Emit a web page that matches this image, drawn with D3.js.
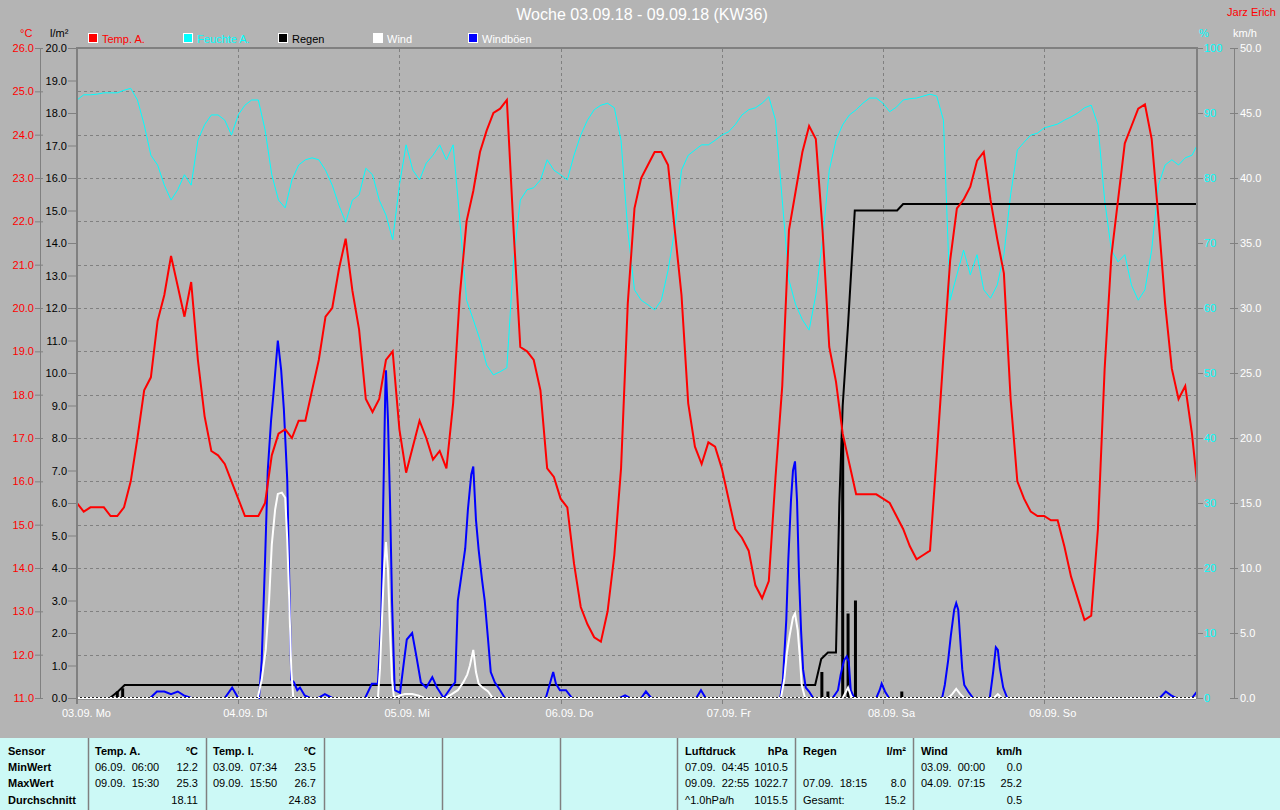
<!DOCTYPE html>
<html><head><meta charset="utf-8">
<script src="https://cdn.jsdelivr.net/npm/d3@7"></script>
<style>
html,body{margin:0;padding:0;background:#b4b4b4;overflow:hidden;}
svg{display:block;font-family:"Liberation Sans",Arial,sans-serif;}
</style></head><body>
<svg id="c" width="1280" height="810"></svg>
<script>
// ---------- DATA ----------
const title = "Woche 03.09.18 - 09.09.18 (KW36)";
const author = "Jarz Erich";
const dayLabels = ["03.09. Mo","04.09. Di","05.09. Mi","06.09. Do","07.09. Fr","08.09. Sa","09.09. So"];
const tempTicks = [11,12,13,14,15,16,17,18,19,20,21,22,23,24,25,26];
const rainTicks = [0,1,2,3,4,5,6,7,8,9,10,11,12,13,14,15,16,17,18,19,20];
const humTicks = [0,10,20,30,40,50,60,70,80,90,100];
const windTicks = [0,5,10,15,20,25,30,35,40,45,50];
const legendLabels = ["Temp. A.","Feuchte A.","Regen","Wind","Windböen"];
const legendColors = ["#ff0000","#00ffff","#000000","#ffffff","#0000ff"];
const legendTextColors = ["#ff0000","#00ffff","#000000","#ffffff","#ffffff"];

// hourly values from 03.09. 00:00
const tempA = [
15.5,15.3,15.4,15.4,15.4,15.2,15.2,15.4,16.0,17.0,
18.1,18.4,19.7,20.3,21.2,20.5,19.8,20.6,18.8,17.5,
16.7,16.6,16.4,16.0,15.6,15.2,15.2,15.2,15.5,16.6,
17.1,17.2,17.0,17.4,17.4,18.1,18.8,19.8,20.0,20.9,
21.6,20.4,19.5,17.9,17.6,17.9,18.8,19.0,17.2,16.2,
16.8,17.4,17.0,16.5,16.7,16.3,17.8,20.3,22.0,22.7,
23.6,24.1,24.5,24.6,24.8,21.8,19.1,19.0,18.8,18.1,
16.3,16.1,15.6,15.4,14.1,13.1,12.7,12.4,12.3,13.0,
14.3,16.3,20.1,22.3,23.0,23.3,23.6,23.6,23.3,21.8,
20.3,17.8,16.8,16.4,16.9,16.8,16.3,15.6,14.9,14.7,
14.4,13.6,13.3,13.7,16.1,18.2,21.8,22.7,23.6,24.2,
23.9,21.8,19.1,18.3,17.1,16.4,15.7,15.7,15.7,15.7,
15.6,15.5,15.2,14.9,14.5,14.2,14.3,14.4,16.6,18.9,
21.1,22.3,22.5,22.8,23.4,23.6,22.5,21.6,20.8,17.9,
16.0,15.6,15.3,15.2,15.2,15.1,15.1,14.5,13.8,13.3,
12.8,12.9,14.9,18.6,21.2,22.5,23.8,24.2,24.6,24.7,
23.9,22.1,20.1,18.6,17.9,18.2,17.1,15.6];

const humidity = [
92.0,92.8,92.8,92.9,93.1,93.1,93.1,93.5,93.8,92.0,
88.2,83.5,82.0,78.9,76.6,78.2,80.5,78.9,85.8,88.2,
89.7,89.7,88.9,86.6,89.7,91.2,92.0,92.0,87.4,80.5,
76.6,75.4,79.7,82.0,82.8,83.1,82.8,81.2,78.9,75.8,
73.2,76.6,77.4,81.5,80.5,76.6,74.3,70.5,78.9,85.1,
81.2,79.7,82.3,83.5,85.1,82.8,85.1,73.5,61.2,58.2,
55.1,51.2,49.7,50.2,50.8,67.4,76.6,78.2,78.5,79.7,
82.8,81.2,80.5,79.7,83.5,86.6,88.9,90.5,91.2,91.5,
90.8,85.8,72.0,62.8,61.2,60.5,59.7,61.2,65.8,72.0,
81.2,83.5,84.3,85.1,85.1,85.8,86.6,87.1,88.2,89.7,
90.5,90.8,91.5,92.5,88.9,76.6,64.3,60.5,58.2,56.6,
62.0,70.5,81.2,85.8,88.2,89.7,90.5,91.5,92.3,92.3,
91.5,90.2,90.9,92.0,92.2,92.3,92.6,92.9,92.6,88.9,
61.2,65.1,68.9,65.1,68.2,62.8,61.5,63.5,68.2,77.4,
84.3,85.5,86.6,86.9,87.7,88.0,88.3,88.9,89.4,90.0,
90.8,91.2,88.2,76.6,68.9,67.1,68.2,63.5,61.2,62.8,
68.9,78.9,82.0,82.8,82.0,83.1,83.5,85.5];

const rainTotalHours = [0,4.9,6.1,7.1,109.9,110.8,111.8,113.0,113.5,114.0,114.8,115.8,122.1,123.0,166.75];
const rainTotal      = [0,0,0.2,0.4,0.4,1.2,1.4,1.4,6.0,9.0,11.5,15.0,15.0,15.2,15.2];

const rainBarHours = [6.0,6.8,110.9,111.8,114.0,114.8,115.9,122.8];
const rainBar      = [0.2,0.3,0.8,0.2,8.0,2.6,3.0,0.2];

const gustHours = [0,10.9,11.9,13.0,14.0,15.0,15.9,17.0,22.0,23.1,24.0,27.1,27.5,28.0,28.4,28.9,29.3,29.9,30.4,30.8,31.3,31.6,31.9,32.3,32.8,33.2,33.9,34.7,35.9,36.9,38.0,
42.9,43.9,44.8,45.3,45.6,45.9,46.0,46.3,46.6,46.9,47.3,48.1,48.7,49.1,49.9,50.5,51.2,52.0,52.9,53.6,54.6,55.4,55.8,56.3,56.7,57.2,57.8,58.2,58.7,59.0,59.4,59.8,60.3,60.7,61.2,61.6,62.2,63.0,63.7,
69.8,70.4,70.9,71.3,71.9,72.8,73.7,80.8,81.6,82.3,84.0,84.7,85.5,92.2,92.9,93.6,
104.7,105.1,105.6,105.9,106.3,106.6,106.9,107.2,107.5,107.8,108.1,108.5,109.0,109.6,
112.5,113.3,113.7,114.2,114.6,114.9,115.2,115.7,119.0,119.5,119.8,120.3,120.9,
128.8,129.2,129.7,130.1,130.6,130.9,131.2,131.5,131.8,132.1,132.7,133.4,
135.9,136.4,136.8,137.1,137.4,137.9,138.5,161.2,162.1,162.9,163.6,166.0,166.75];
const gust = [0,0,0.5,0.5,0.3,0.5,0.2,0,0,0.8,0,0,2.9,10.6,17.5,21.4,23.7,27.5,25.2,22.2,16.8,9.1,1.4,1.2,0.6,0.8,0.2,0,0,0.3,0,
0,1.1,1.1,6.0,15.2,23.7,25.2,21.4,15.2,7.5,0.6,0.4,2.9,4.5,5.0,3.3,1.2,0.8,1.6,0.8,0,0.6,0.9,1.2,7.5,9.3,11.5,14.5,17.2,17.8,13.7,11.4,9.1,7.5,4.5,2.0,1.2,0.6,0,
0,1.1,2.0,1.1,0.6,0.6,0,0,0.2,0,0,0.5,0,0,0.6,0,
0,1.4,6.0,10.6,15.2,17.5,18.2,15.2,9.3,5.2,2.2,0.8,0.5,0,
0,0.6,1.8,2.9,3.2,2.8,0.6,0,0,0.6,1.1,0.5,0,
0,1.0,2.9,4.8,6.8,7.3,6.8,4.5,2.2,1.0,0.5,0,
0,2.0,3.9,3.7,2.3,0.8,0,0,0.5,0.2,0,0,0.5];

const windHours = [0,26.9,27.5,28.1,28.6,29.0,29.5,29.9,30.5,31.0,31.3,31.6,31.9,32.2,
44.8,45.1,45.4,45.7,46.0,46.3,46.6,46.9,47.2,48.1,48.8,49.9,50.8,51.7,
54.8,55.8,56.7,57.5,58.1,58.5,59.0,59.4,59.8,60.4,61.2,61.9,
104.8,105.3,105.7,106.1,106.6,106.9,107.3,107.6,107.9,108.4,
114.0,114.5,114.8,115.2,115.5,129.7,130.3,130.9,131.5,132.1,136.5,137.1,137.7,166.75];
const wind = [0,0,1.4,3.7,7.5,11.8,14.5,15.7,15.8,15.4,12.2,7.5,2.2,0,
0,2.2,6.0,9.8,12.0,9.8,5.2,1.4,0,0.2,0.3,0.3,0.2,0,
0,0.3,0.6,1.2,1.8,2.5,3.7,2.0,1.1,0.8,0.5,0,
0,1.4,3.5,4.8,6.2,6.5,5.2,3.3,1.0,0,
0,0.5,0.8,0.2,0,0,0.3,0.7,0.3,0,0,0.3,0,0];

// statistics table
const sensorLabels = ["Sensor","MinWert","MaxWert","Durchschnitt"];
const tempAHead = ["Temp. A.","°C"];
const tempARows = [["06.09.  06:00","12.2"],["09.09.  15:30","25.3"],["","18.11"]];
const tempIHead = ["Temp. I.","°C"];
const tempIRows = [["03.09.  07:34","23.5"],["09.09.  15:50","26.7"],["","24.83"]];
const pressHead = ["Luftdruck","hPa"];
const pressRows = [["07.09.  04:45","1010.5"],["09.09.  22:55","1022.7"],["^1.0hPa/h","1015.5"]];
const rainHead = ["Regen","l/m²"];
const rainRows = [["",""],["07.09.  18:15","8.0"],["Gesamt:","15.2"]];
const windHead = ["Wind","km/h"];
const windRows = [["03.09.  00:00","0.0"],["04.09.  07:15","25.2"],["","0.5"]];

// ---------- DRAW ----------
const svg = d3.select('#c');
const FONT = '"Liberation Sans",Arial,sans-serif';
const GRAY = '#808080';
svg.append('rect').attr('width',1280).attr('height',810).attr('fill','#b4b4b4');

const x  = d3.scaleLinear().domain([0,166.75]).range([77,1197]);
const yT = d3.scaleLinear().domain([11,26]).range([698,48]);
const yR = d3.scaleLinear().domain([0,20]).range([698,48]);
const yH = d3.scaleLinear().domain([0,100]).range([698,48]);
const yW = d3.scaleLinear().domain([0,50]).range([698,48]);

// title
svg.append('text').attr('x',642).attr('y',20).attr('text-anchor','middle')
  .attr('fill','#ffffff').attr('font-size',16).attr('font-family',FONT).text(title);
svg.append('text').attr('x',1276).attr('y',16).attr('text-anchor','end')
  .attr('fill','#ff0000').attr('font-size',11).attr('font-family',FONT).text(author);

// legend
const lg = svg.append('g');
legendLabels.forEach((l,i)=>{
  const lx = 88 + i*95;
  lg.append('rect').attr('x',lx+0.5).attr('y',33.5).attr('width',9).attr('height',9)
    .attr('fill',legendColors[i]).attr('stroke','#ffffff').attr('stroke-width',1);
  lg.append('text').attr('x',lx+14).attr('y',42.5).attr('fill',legendTextColors[i])
    .attr('font-size',11).attr('font-family',FONT).text(l);
});

// unit labels
const unit = (tx,ty,t,c)=>svg.append('text').attr('x',tx).attr('y',ty).attr('fill',c)
  .attr('font-size',11).attr('font-family',FONT).text(t);
unit(20,37,'°C','#ff0000');
unit(50,37,'l/m²','#000000');
unit(1199,37,'%','#00ffff');
unit(1233,37,'km/h','#ffffff');

// grid
const grid = svg.append('g').attr('stroke',GRAY).attr('stroke-width',1).attr('stroke-dasharray','3,3');
tempTicks.filter(t=>t>11 && t<26).forEach(t=>{
  const yy = Math.round(yT(t))+0.5;
  grid.append('line').attr('x1',78).attr('x2',1196).attr('y1',yy).attr('y2',yy);
});
[24,48,72,96,120,144].forEach(h=>{
  const xx = Math.round(x(h))+0.5;
  grid.append('line').attr('x1',xx).attr('x2',xx).attr('y1',49).attr('y2',697);
});

// axes
function styleAxis(g, color){
  g.attr('font-size',11).attr('font-family',FONT);
  g.select('.domain').remove();
  g.selectAll('.tick line').attr('stroke',GRAY);
  g.selectAll('.tick text').attr('fill',color);
}
const fmt1 = d3.format('.1f');
styleAxis(svg.append('g').attr('transform','translate(43,0)')
  .call(d3.axisLeft(yT).tickValues(tempTicks).tickFormat(fmt1).tickSize(8).tickPadding(1)),'#ff0000');
svg.append('line').attr('x1',40.5).attr('x2',40.5).attr('y1',48).attr('y2',698).attr('stroke',GRAY);
styleAxis(svg.append('g').attr('transform','translate(77,0)')
  .call(d3.axisLeft(yR).tickValues(rainTicks).tickFormat(fmt1).tickSize(9).tickPadding(1)),'#000000');
styleAxis(svg.append('g').attr('transform','translate(1197,0)')
  .call(d3.axisRight(yH).tickValues(humTicks).tickFormat(d3.format('d')).tickSize(6).tickPadding(1)),'#00ffff');
styleAxis(svg.append('g').attr('transform','translate(1230,0)')
  .call(d3.axisRight(yW).tickValues(windTicks).tickFormat(fmt1).tickSize(8).tickPadding(2)),'#ffffff');
svg.append('line').attr('x1',1234.5).attr('x2',1234.5).attr('y1',48).attr('y2',698).attr('stroke',GRAY);

// x axis labels and ticks
const xg = svg.append('g');
dayLabels.forEach((d,i)=>{
  const xx = Math.round(x(i*24))+0.5;
  xg.append('line').attr('x1',xx).attr('x2',xx).attr('y1',698).attr('y2',704).attr('stroke',GRAY);
  xg.append('text').attr('x',x(i*24)-15).attr('y',717).attr('fill','#ffffff')
    .attr('font-size',11).attr('font-family',FONT).style('white-space','pre').text(d);
});

// clip
svg.append('clipPath').attr('id','clip').append('rect').attr('x',78).attr('y',40).attr('width',1119).attr('height',662);
const plot = svg.append('g').attr('clip-path','url(#clip)');

const hourIdx = d => d;
// humidity
plot.append('path').datum(humidity)
  .attr('d', d3.line().x((d,i)=>x(i)).y(d=>yH(d)))
  .attr('fill','none').attr('stroke','#00ffff').attr('stroke-width',1);

// rain bars
plot.selectAll('rect.rb').data(rainBarHours.map((h,i)=>({h,v:rainBar[i]}))).join('rect')
  .attr('class','rb').attr('x',d=>x(d.h)-1.5).attr('width',3)
  .attr('y',d=>yR(d.v)).attr('height',d=>yR(0)-yR(d.v)).attr('fill','#000000');
// rain total
plot.append('path').datum(rainTotalHours.map((h,i)=>[h,rainTotal[i]]))
  .attr('d', d3.line().x(d=>x(d[0])).y(d=>yR(d[1])))
  .attr('fill','none').attr('stroke','#000000').attr('stroke-width',2);

// gusts
plot.append('path').datum(gustHours.map((h,i)=>[h,gust[i]]))
  .attr('d', d3.line().x(d=>x(d[0])).y(d=>yW(d[1])))
  .attr('fill','none').attr('stroke','#0000ff').attr('stroke-width',2);
// wind
plot.append('path').datum(windHours.map((h,i)=>[h,wind[i]]))
  .attr('d', d3.line().x(d=>x(d[0])).y(d=>yW(d[1])))
  .attr('fill','none').attr('stroke','#ffffff').attr('stroke-width',2);
// temperature
plot.append('path').datum(tempA)
  .attr('d', d3.line().x((d,i)=>x(i)).y(d=>yT(d)))
  .attr('fill','none').attr('stroke','#ff0000').attr('stroke-width',2);

// frame
svg.append('line').attr('x1',76).attr('x2',1198).attr('y1',48).attr('y2',48).attr('stroke',GRAY).attr('stroke-width',2);
svg.append('line').attr('x1',77).attr('x2',77).attr('y1',47).attr('y2',704).attr('stroke',GRAY).attr('stroke-width',2);
svg.append('line').attr('x1',1197).attr('x2',1197).attr('y1',47).attr('y2',699).attr('stroke',GRAY).attr('stroke-width',2);
// baseline
svg.append('line').attr('x1',78).attr('x2',1196).attr('y1',699.5).attr('y2',699.5).attr('stroke','#909090').attr('stroke-width',1);
svg.append('line').attr('x1',78).attr('x2',1196).attr('y1',697.5).attr('y2',697.5).attr('stroke','#202020').attr('stroke-width',1);
svg.append('line').attr('x1',78).attr('x2',1196).attr('y1',697.5).attr('y2',697.5).attr('stroke','#ffffff').attr('stroke-width',1).attr('stroke-dasharray','2,2');

// table
const tb = svg.append('g').attr('font-family',FONT).attr('font-size',11);
tb.append('rect').attr('x',0).attr('y',738).attr('width',1280).attr('height',72).attr('fill','#ccf9f6');
[88,206,324,442,560,677,795,913].forEach(dx=>{
  tb.append('line').attr('x1',dx+0.5).attr('x2',dx+0.5).attr('y1',738).attr('y2',810).attr('stroke',GRAY).attr('stroke-width',1.5);
});
const rowY = [755,771,787,804];
sensorLabels.forEach((s,i)=>tb.append('text').attr('x',8).attr('y',rowY[i]).attr('font-weight','bold').attr('fill','#000').text(s));
function col(x0,x1,head,rows){
  tb.append('text').attr('x',x0).attr('y',rowY[0]).attr('font-weight','bold').attr('fill','#000').text(head[0]);
  tb.append('text').attr('x',x1).attr('y',rowY[0]).attr('font-weight','bold').attr('text-anchor','end').attr('fill','#000').text(head[1]);
  rows.forEach((r,i)=>{
    tb.append('text').attr('x',x0).attr('y',rowY[i+1]).attr('fill','#000').style('white-space','pre').text(r[0]);
    tb.append('text').attr('x',x1).attr('y',rowY[i+1]).attr('text-anchor','end').attr('fill','#000').text(r[1]);
  });
}
col(95,198,tempAHead,tempARows);
col(213,316,tempIHead,tempIRows);
col(685,788,pressHead,pressRows);
col(803,906,rainHead,rainRows);
col(921,1022,windHead,windRows);
</script>
</body></html>
